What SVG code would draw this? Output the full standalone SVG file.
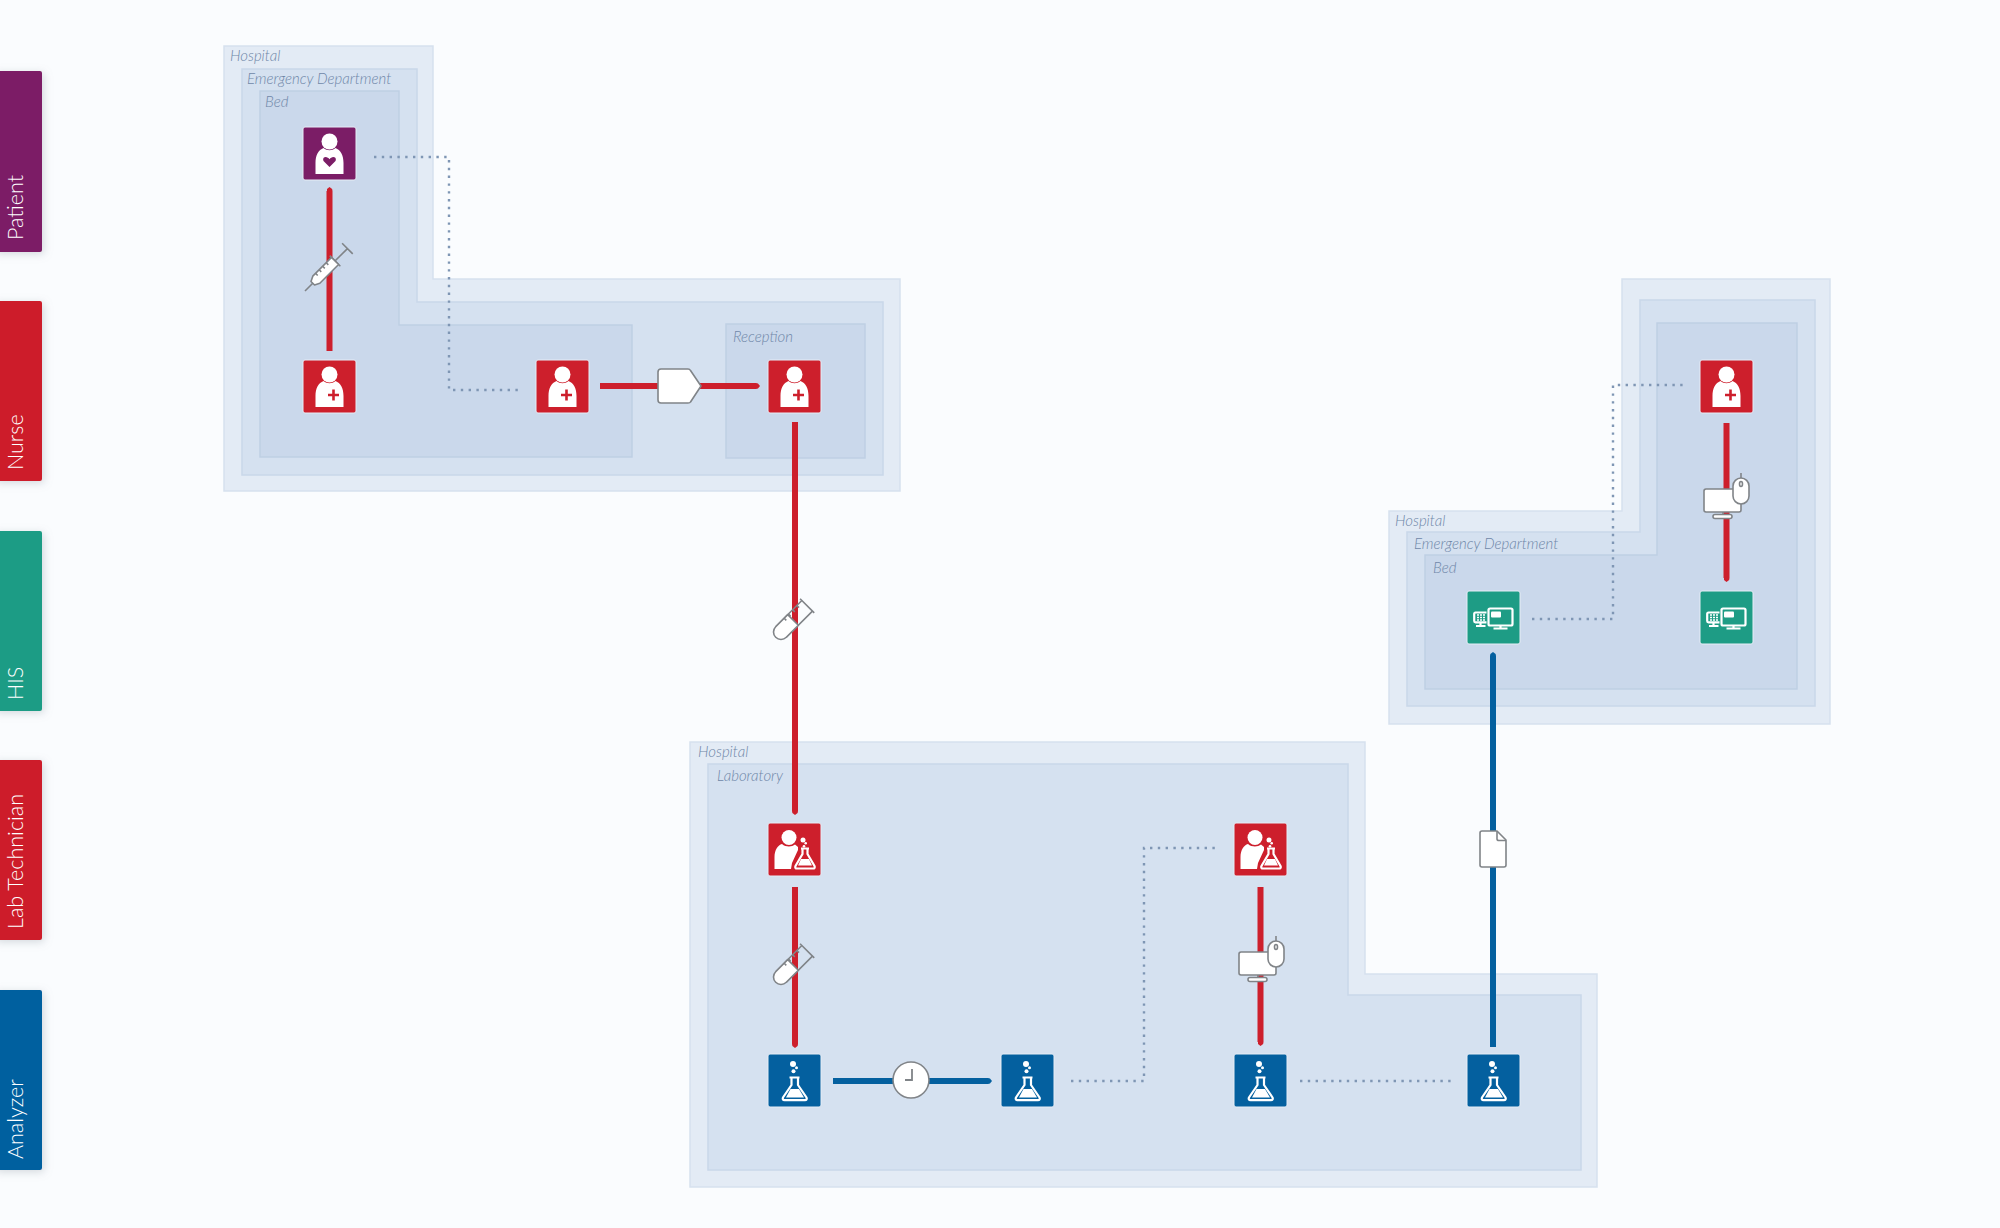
<svg xmlns="http://www.w3.org/2000/svg" width="2000" height="1228" viewBox="0 0 2000 1228">
<style>
.h{fill:#e3ebf5;stroke:#d6e1ee;stroke-width:1.5}
.e{fill:#d5e1f0;stroke:#c9d7e9;stroke-width:1.5}
.b{fill:#cad8eb;stroke:#bfcfe4;stroke-width:1.5}
.t{font:italic 300 15px Lato,"Open Sans",sans-serif;fill:#6f87a8}
.lane{font:300 21.500px Lato,"Open Sans",sans-serif;fill:#fff}
.n{stroke:#e6edf6;stroke-width:1}
.red{fill:none;stroke:#cd1f2c;stroke-width:6}
.blue{fill:none;stroke:#04609f;stroke-width:6}
.dot{fill:none;stroke:#7f96b4;stroke-width:2.400;stroke-dasharray:2.400 5.400}
.ic{fill:#fff;stroke:#808488;stroke-width:1.600;stroke-linejoin:round}
.il{fill:none;stroke:#808488;stroke-width:1.600}
.w{fill:#fff}
.ws{fill:none;stroke:#fff;stroke-width:2.200}
</style>
<defs>
<marker id="tr" markerUnits="userSpaceOnUse" markerWidth="4" markerHeight="6" refX="0" refY="3" orient="auto"><path d="M0 0L2 .4L4 3L2 5.600L0 6Z" fill="#cd1f2c"/></marker>
<marker id="tb" markerUnits="userSpaceOnUse" markerWidth="4" markerHeight="6" refX="0" refY="3" orient="auto"><path d="M0 0L2 .4L4 3L2 5.600L0 6Z" fill="#04609f"/></marker>
<filter id="sh" x="-30%" y="-10%" width="160%" height="120%"><feDropShadow dx="2" dy="2" stdDeviation="4" flood-color="#8a94a0" flood-opacity=".35"/></filter>
<path id="body" d="M12.500 47V36C12.500 28 15.500 23 20.500 21C24 24 29 24 32.500 21C37.500 23 40.500 28 40.500 36V47Z" fill="#fff"/>
<symbol id="patient" viewBox="0 0 53 53" width="53" height="53"><circle class="w" cx="26.500" cy="14.500" r="8"/><use href="#body"/><path d="M31 40L25.500 34.500C24 33 24.500 30 27 30C28.800 30 30 31 31 32.200C32 31 33.200 30 35 30C37.500 30 38 33 36.500 34.500Z" fill="#7b1d66" transform="translate(-4.500 0)"/></symbol>
<symbol id="nurse" viewBox="0 0 53 53" width="53" height="53"><circle class="w" cx="26.500" cy="14.500" r="8"/><use href="#body"/><path d="M30.500 29.500v11M25 35h11" stroke="#cd1f2c" stroke-width="2.600" fill="none"/></symbol>
<symbol id="flask" viewBox="0 0 53 53" width="53" height="53"><circle class="w" cx="25" cy="10" r="3"/><circle class="w" cx="28.500" cy="13.700" r="1.500"/><circle class="w" cx="25.500" cy="17.300" r="2"/><path class="ws" d="M21.500 23.500H31.500M23.500 23.500V31L15 43.500C14.300 45 15 46.200 16.500 46.200H37C38.500 46.200 39.200 45 38.500 43.500L30 31V23.500"/><path class="w" d="M22.500 35H31L36 43.500H18Z"/></symbol>
<symbol id="tech" viewBox="0 0 53 53" width="53" height="53"><circle class="w" cx="21" cy="14.500" r="7.500"/><path class="w" d="M6.500 46V34C6.500 27 10 22 14 21C18 24.500 24 24 27 21.500L30 24L30 27L24 40L23 46Z"/><circle class="w" cx="35" cy="17" r="2.500"/><circle class="w" cx="37.700" cy="20.300" r="1.300"/><circle class="w" cx="36" cy="23.300" r="1.300"/><path class="ws" d="M33 25.500H41M34.500 25.500V31L27.500 43C26.800 44.500 27.500 45.500 29 45.500H45C46.500 45.500 47.200 44.500 46.500 43L39.500 31V25.500"/><path class="w" d="M33 36H41L44 42.500H30Z"/></symbol>
<symbol id="his" viewBox="0 0 53 53" width="53" height="53"><rect class="ws" x="21.500" y="17.500" width="24" height="17" rx="1.500"/><rect class="w" x="24" y="20.500" width="10" height="6" rx="1"/><path class="ws" d="M33.500 34.500V37M26.500 37.500H40.500"/><path class="ws" d="M19.500 21.500H8.500C7.500 21.500 7.200 22 7.200 23V30C7.200 31 7.500 31.300 8.500 31.300H19.500M13.500 31.300V34.500M9 35H18.500"/><path d="M10 24h2M13 24h2M16 24h2M10 26.500h2M13 26.500h2M16 26.500h2M10 29h2M13 29h2M16 29h2" stroke="#fff" stroke-width="1.500" fill="none"/></symbol>
<g id="pc"><path class="ic" d="M19 22V27M9 29.500C9 28 10 27.500 11 27.500H26C27 27.500 28 28 28 29.500C28 31 27 31.500 26 31.500H11C10 31.500 9 31 9 29.500Z" transform="translate(0 -2)"/><rect class="ic" width="37" height="23" rx="2"/><path class="il" d="M37 -16V-11"/><rect class="ic" x="29" y="-11" width="16" height="26" rx="8"/><ellipse class="il" cx="37" cy="-5" rx="1.500" ry="2.500"/></g>
<g id="tube"><path class="il" d="M0 -7.500H37M0 7.500H37"/><path class="ic" d="M17 -7.500H0A7.500 7.500 0 0 0 0 7.500H17Z"/><path class="il" d="M37 -10V10M12 -7.500v3M18 -7.500v3M24 -7.500v3M30 -7.500v3"/></g>
</defs>
<rect width="2000" height="1228" fill="#fafcfe"/>

<g id="lanes">
<g id="lane-patient"><rect x="-6" y="71" width="48" height="181" rx="2" fill="#7b1d66" filter="url(#sh)"/><text class="lane" transform="translate(23 240) rotate(-90)">Patient</text></g>
<g id="lane-nurse"><rect x="-6" y="301" width="48" height="180" rx="2" fill="#cd1f2c" filter="url(#sh)"/><text class="lane" transform="translate(23 470) rotate(-90)">Nurse</text></g>
<g id="lane-his"><rect x="-6" y="531" width="48" height="180" rx="2" fill="#1e9c85" filter="url(#sh)"/><text class="lane" transform="translate(23 700) rotate(-90)">HIS</text></g>
<g id="lane-lab"><rect x="-6" y="760" width="48" height="180" rx="2" fill="#cd1f2c" filter="url(#sh)"/><text class="lane" transform="translate(23 929) rotate(-90)">Lab Technician</text></g>
<g id="lane-analyzer"><rect x="-6" y="990" width="48" height="180" rx="2" fill="#04609f" filter="url(#sh)"/><text class="lane" transform="translate(23 1159) rotate(-90)">Analyzer</text></g>
</g>

<g id="zones">
<g id="zone-a">
<path class="h" d="M224 46H433V279H900V491H224Z"/>
<path class="e" d="M242 69H417V302H883V475H242Z"/>
<path class="b" d="M260 91H399V325H632V457H260Z"/>
<rect class="b" x="726" y="324" width="139" height="134"/>
<text class="t" x="230" y="61">Hospital</text>
<text class="t" x="247" y="84">Emergency Department</text>
<text class="t" x="265" y="107">Bed</text>
<text class="t" x="733" y="342">Reception</text>
</g>
<g id="zone-b">
<path class="h" d="M690 742H1365V974H1597V1187H690Z"/>
<path class="e" d="M708 764H1348V995H1581V1170H708Z"/>
<text class="t" x="698" y="757">Hospital</text>
<text class="t" x="717" y="781">Laboratory</text>
</g>
<g id="zone-c">
<path class="h" d="M1622 279H1830V724H1389V511H1622Z"/>
<path class="e" d="M1640 300H1815V706H1407V532H1640Z"/>
<path class="b" d="M1657 323H1797V689H1425V555H1657Z"/>
<text class="t" x="1395" y="526">Hospital</text>
<text class="t" x="1414" y="549">Emergency Department</text>
<text class="t" x="1433" y="573">Bed</text>
</g>
</g>

<g id="connectors">
<path class="dot" d="M374 157H449V390H520"/>
<path class="dot" d="M1071 1081H1144V848H1218"/>
<path class="dot" d="M1300 1081H1453"/>
<path class="dot" d="M1532 619H1613V385H1687"/>
<path class="red" d="M329.500 351V191" marker-end="url(#tr)"/>
<path class="red" d="M600 386H756" marker-end="url(#tr)"/>
<path class="red" d="M795 422V811" marker-end="url(#tr)"/>
<path class="red" d="M795 887V1044" marker-end="url(#tr)"/>
<path class="blue" d="M833 1081H988" marker-end="url(#tb)"/>
<path class="red" d="M1260.500 887V1042" marker-end="url(#tr)"/>
<path class="blue" d="M1493 1047V656" marker-end="url(#tb)"/>
<path class="red" d="M1726.500 423V578" marker-end="url(#tr)"/>
</g>

<g id="edge-icons">
<g id="icon-syringe" transform="translate(305 291) rotate(-45)"><path class="il" d="M0 0H12M42 0H60M60 -7.500V7.500M42.500 -7.500V7.500"/><path class="ic" d="M11 -2.500L16 -5H42.500V5H16L11 2.500Z"/><path class="il" d="M20 -5v3M25 -5v3M30 -5v3M35 -5v3"/></g>
<g id="icon-envelope"><path class="ic" d="M661 369H688C689 369 690 369.500 690.500 370.500L701 386L690.500 402C690 403 689 403 688 403H661C659 403 658 402 658 400V372C658 370 659 369 661 369Z"/></g>
<use id="icon-tube-1" href="#tube" transform="translate(781 632) rotate(-45)"/>
<use id="icon-tube-2" href="#tube" transform="translate(781 977) rotate(-45)"/>
<g id="icon-clock"><circle class="ic" cx="911" cy="1080" r="18"/><path d="M912 1069V1080H905" fill="none" stroke="#808488" stroke-width="1.800"/></g>
<use id="icon-pc-1" href="#pc" transform="translate(1239 952)"/>
<use id="icon-pc-2" href="#pc" transform="translate(1704 489)"/>
<g id="icon-doc"><path class="ic" d="M1482 831H1497L1506 840V865C1506 866.500 1505 867 1504 867H1482C1481 867 1480 866.500 1480 865V833C1480 831.500 1481 831 1482 831Z"/><path class="il" d="M1497 831V839C1497 840 1498 840.500 1499 840.500H1506"/></g>
</g>

<g id="nodes">
<g id="n-patient"><rect class="n" x="303" y="127" width="53" height="53" rx="2" fill="#7b1d66"/><use href="#patient" x="303" y="127"/></g>
<g id="n-nurse-1"><rect class="n" x="303" y="360" width="53" height="53" rx="2" fill="#cd1f2c"/><use href="#nurse" x="303" y="360"/></g>
<g id="n-nurse-2"><rect class="n" x="536" y="360" width="53" height="53" rx="2" fill="#cd1f2c"/><use href="#nurse" x="536" y="360"/></g>
<g id="n-nurse-3"><rect class="n" x="768" y="360" width="53" height="53" rx="2" fill="#cd1f2c"/><use href="#nurse" x="768" y="360"/></g>
<g id="n-nurse-4"><rect class="n" x="1700" y="360" width="53" height="53" rx="2" fill="#cd1f2c"/><use href="#nurse" x="1700" y="360"/></g>
<g id="n-his-1"><rect class="n" x="1467" y="591" width="53" height="53" rx="2" fill="#1e9c85"/><use href="#his" x="1467" y="591"/></g>
<g id="n-his-2"><rect class="n" x="1700" y="591" width="53" height="53" rx="2" fill="#1e9c85"/><use href="#his" x="1700" y="591"/></g>
<g id="n-tech-1"><rect class="n" x="768" y="823" width="53" height="53" rx="2" fill="#cd1f2c"/><use href="#tech" x="768" y="823"/></g>
<g id="n-tech-2"><rect class="n" x="1234" y="823" width="53" height="53" rx="2" fill="#cd1f2c"/><use href="#tech" x="1234" y="823"/></g>
<g id="n-an-1"><rect class="n" x="768" y="1054" width="53" height="53" rx="2" fill="#04609f"/><use href="#flask" x="768" y="1054"/></g>
<g id="n-an-2"><rect class="n" x="1001" y="1054" width="53" height="53" rx="2" fill="#04609f"/><use href="#flask" x="1001" y="1054"/></g>
<g id="n-an-3"><rect class="n" x="1234" y="1054" width="53" height="53" rx="2" fill="#04609f"/><use href="#flask" x="1234" y="1054"/></g>
<g id="n-an-4"><rect class="n" x="1467" y="1054" width="53" height="53" rx="2" fill="#04609f"/><use href="#flask" x="1467" y="1054"/></g>
</g>
</svg>
